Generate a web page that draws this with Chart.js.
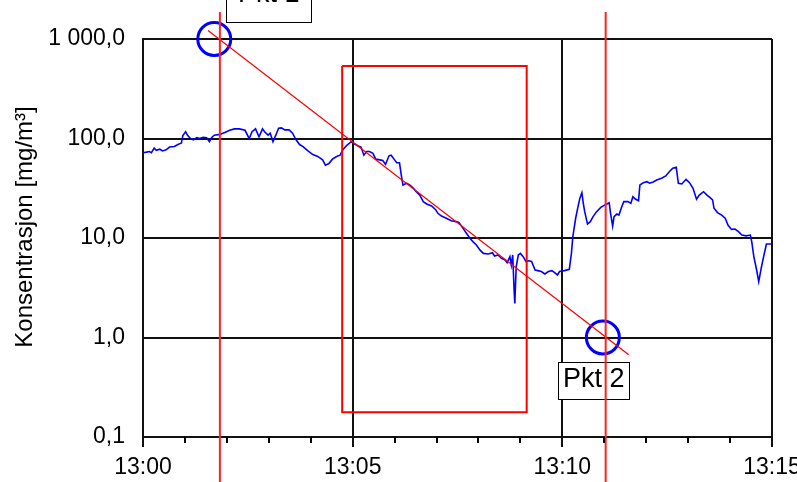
<!DOCTYPE html>
<html><head><meta charset="utf-8">
<script src="https://cdn.jsdelivr.net/npm/chart.js@4/dist/chart.umd.min.js"></script>
<style>html,body{margin:0;padding:0;background:#fff}#wrap{width:797px;height:482px;position:relative}</style>
</head><body><div id="wrap"><canvas id="c"></canvas></div>
<script>
// seconds after 13:00
const timesSec = [0,5,9,12,16,19,24,28,33,38,45,50,55,57,61,64,68,72,77,81,86,91,95,98,102,110,117,124,131,138,146,152,156,161,166,171,174,179,182,186,190,194,198,203,209,214,219,224,229,236,243,250,257,261,266,271,277,282,286,292,298,303,308,312,316,320,324,329,333,339,343,347,352,355,360,363,367,370,372,377,382,387,391,396,401,406,413,419,422,427,434,441,448,452,458,463,468,472,477,482,487,494,500,503,508,513,518,521,525,527,529,531,532,534,537,540,544,548,552,556,561,565,570,575,580,585,589,593,596,603,610,613,615,619,622,625,628,630,632,636,640,644,649,655,661,667,669,672,674,678,681,685,688,694,698,701,705,709,711,716,721,725,730,735,742,748,753,758,763,766,771,777,782,787,792,796,802,807,811,815,817,822,828,833,837,842,847,852,857,863,869,871,874,878,881,885,888,892,899];
// mg/m3
const concentration = [72,73,74,72,80,76,78,75,77,82,83,87,90,107,117,107,100,97,102,100,103,102,93,102,108,110,115,121,125,125,121,100,117,125,104,125,117,108,113,93,108,127,128,122,122,113,97,87,83,75,69,66,61,54,56,62,66,68,77,86,93,88,84,82,68,74,74,71,62,61,60,55,67,68,61,57,57,41,34,35.5,34,31.6,29.2,27,23.2,22,21,19.1,17.7,16.6,15.8,14.9,14.6,14.3,12.5,11.1,9.9,9.2,8.5,7.6,7.0,6.9,7.1,6.6,6.75,6.25,6.0,5.65,6.5,5.35,6.75,3.0,2.2,5.15,6.75,7.0,6.5,5.8,5.9,5.8,4.77,4.7,4.6,4.35,4.6,4.7,4.48,4.25,4.6,4.7,4.85,7,10.3,15.7,20,25,28.5,22.3,18.4,13.8,14.6,16.4,18.4,20.3,21.5,22.6,17.7,13.2,16.4,17.4,17.0,20.6,23.2,23.2,22.3,26,24.5,23.7,34.1,36,36.8,35.5,36.5,38.3,39.8,42,46.4,50.2,51.3,35.5,34.9,38.9,36,31.6,24.5,27,29.2,27,25.6,24.1,19.9,18,17.0,15.8,13.5,12.2,12.3,11.6,10.7,10.5,10.7,9.2,6.5,4.77,3.64,5.15,6.5,8.7,8.7];

const yTickValues = [0.1, 1, 10, 100, 1000];
const yTickLabels = ['0,1', '1,0', '10,0', '100,0', '1 000,0'];
const xTickValues = [0, 300, 600, 900];
const xTickLabels = ['13:00', '13:05', '13:10', '13:15'];
const minorTickValues = [60,120,180,240,360,420,480,540,660,720,780,840];

const cursorTimes = [110, 662];
const cursorRange = [1870, 0.035];
const trendTimes = [93, 695];
const trendValues = [1220, 0.67];
const windowTimes = [285, 549];
const windowValues = [0.177, 535];
const pointTimes = [102, 658];
const pointValues = [1000, 1.0];
const pointLabels = ['Pkt 1', 'Pkt 2'];
const labelTimes = [180, 645];
const labelValues = [2290, 0.37];
const yTitle = 'Konsentrasjon [mg/m³]';

const FONT = "'Liberation Sans', Arial, sans-serif";
Chart.defaults.font.family = FONT;
Chart.defaults.color = '#000';

const blueData = timesSec.map((t, i) => ({x: t, y: concentration[i]}));
const cursorSets = cursorTimes.map(t => ({
  data: [{x: t, y: cursorRange[0]}, {x: t, y: cursorRange[1]}],
  borderColor: '#ff2020', borderWidth: 2, pointRadius: 0, clip: false, showLine: true
}));
const trendSet = {
  data: trendTimes.map((t, i) => ({x: t, y: trendValues[i]})),
  borderColor: '#ff0000', borderWidth: 1.2, pointRadius: 0, clip: false, showLine: true
};
const windowSet = {
  data: [
    {x: windowTimes[0], y: windowValues[1]}, {x: windowTimes[1], y: windowValues[1]},
    {x: windowTimes[1], y: windowValues[0]}, {x: windowTimes[0], y: windowValues[0]},
    {x: windowTimes[0], y: windowValues[1]}
  ],
  borderColor: '#ff0000', borderWidth: 2, pointRadius: 0, showLine: true
};
const circleSet = {
  data: pointTimes.map((t, i) => ({x: t, y: pointValues[i]})),
  showLine: false, pointRadius: 16.5, pointHoverRadius: 16.5, pointBorderWidth: 3,
  pointBorderColor: '#0000ff', pointBackgroundColor: 'rgba(0,0,0,0)', clip: false
};
const blueSet = {
  data: blueData, borderColor: '#0000ff', borderWidth: 1.6, pointRadius: 0, showLine: true
};

const labelPlugin = {
  id: 'pktLabels',
  beforeDatasetsDraw(chart) {
    const ctx = chart.ctx, xs = chart.scales.x, ys = chart.scales.y;
    const widths = [85, 71], h = 37, textDy = [-9, -1];
    ctx.save();
    ctx.font = '27px ' + FONT;
    ctx.textAlign = 'center'; ctx.textBaseline = 'middle';
    pointLabels.forEach((txt, i) => {
      const cx = xs.getPixelForValue(labelTimes[i]);
      const cy = ys.getPixelForValue(labelValues[i]);
      const w = widths[i];
      ctx.fillStyle = '#fff';
      ctx.fillRect(cx - w / 2, cy - h / 2, w, h);
      ctx.strokeStyle = '#000'; ctx.lineWidth = 1;
      ctx.strokeRect(Math.round(cx - w / 2) + 0.5, Math.round(cy - h / 2) + 0.5, w, h);
      ctx.fillStyle = '#000';
      ctx.fillText(txt, cx, cy + textDy[i]);
    });
    ctx.restore();
  }
};
const extrasPlugin = {
  id: 'extras',
  afterDraw(chart) {
    const ctx = chart.ctx, xs = chart.scales.x, area = chart.chartArea;
    ctx.save();
    ctx.strokeStyle = '#000'; ctx.lineWidth = 2;
    minorTickValues.forEach(t => {
      const x = Math.round(xs.getPixelForValue(t));
      ctx.beginPath(); ctx.moveTo(x, area.bottom); ctx.lineTo(x, area.bottom + 6); ctx.stroke();
    });
    ctx.translate(25, 227);
    ctx.rotate(-Math.PI / 2);
    ctx.font = '24px ' + FONT;
    ctx.fillStyle = '#000';
    ctx.textAlign = 'center'; ctx.textBaseline = 'middle';
    ctx.fillText(yTitle, 0, 0);
    ctx.restore();
  }
};

new Chart(document.getElementById('c'), {
  type: 'scatter',
  data: { datasets: [...cursorSets, trendSet, windowSet, circleSet, blueSet] },
  options: {
    responsive: true, maintainAspectRatio: false, animation: false, devicePixelRatio: 1,
    layout: { padding: { left: 0, right: 25, top: 39, bottom: 0 } },
    plugins: { legend: { display: false }, tooltip: { enabled: false } },
    events: [],
    scales: {
      x: {
        type: 'linear', min: 0, max: 900,
        ticks: {
          stepSize: 300, padding: 7, font: { size: 23 }, color: '#000', maxRotation: 0, autoSkip: false,
          callback: v => { const i = xTickValues.indexOf(v); return i >= 0 ? xTickLabels[i] : ''; }
        },
        afterBuildTicks: s => { s.ticks = xTickValues.map(v => ({value: v})); },
        grid: { color: '#111', lineWidth: 2, tickLength: 10, tickColor: '#111', tickWidth: 2 },
        border: { color: '#111', width: 2 },
        afterFit: s => { s.height = 45; s.paddingLeft = 0; s.paddingRight = 0; }
      },
      y: {
        type: 'logarithmic', min: 0.1, max: 1000,
        afterBuildTicks: s => { s.ticks = yTickValues.map(v => ({value: v})); },
        ticks: {
          padding: 18, font: { size: 23 }, color: '#000', autoSkip: false,
          callback: v => { const i = yTickValues.indexOf(v); return i >= 0 ? yTickLabels[i] : ''; }
        },
        grid: { color: '#111', lineWidth: 2, drawTicks: false },
        border: { color: '#111', width: 2 },
        afterFit: s => { s.width = 143; s.paddingTop = 0; s.paddingBottom = 0; }
      }
    }
  },
  plugins: [labelPlugin, extrasPlugin]
});
</script></body></html>
